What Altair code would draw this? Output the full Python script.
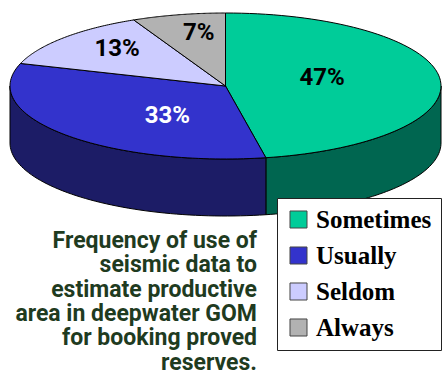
import altair as alt
import numpy as np
import pandas as pd

categories = ["Sometimes", "Usually", "Seldom", "Always"]
values = [47, 33, 13, 7]
top_colors = ["#00CC99", "#3333CC", "#CCCCFF", "#B2B2B2"]
side_colors = ["#006650", "#1C1C66", "#6A6A88", "#5A5A5A"]
label_colors = ["black", "white", "black", "black"]
label_radius = [0.45, 0.36, 0.67, 0.57]
title_lines = [
    "Frequency of use of",
    "seismic data to",
    "estimate productive",
    "area in deepwater GOM",
    "for booking proved",
    "reserves.",
]

# pie geometry (pixel space)
CX, CY, RX, RY, DEPTH = 225.5, 86.0, 215.5, 73.0, 57.0
W, H = 442, 387


def pt(a_deg, dy=0.0):
    a = np.radians(a_deg)
    return CX + RX * np.cos(a), CY - RY * np.sin(a) + dy


total = float(sum(values))
starts, ends = [], []
acc = 90.0
for v in values:
    s = acc
    e = acc - 360.0 * v / total
    starts.append(s)
    ends.append(e)
    acc = e

top_rows, side_rows, label_rows = [], [], []
for k, (c, s, e) in enumerate(zip(categories, starts, ends)):
    angs = np.linspace(s, e, 80)
    pts = [(CX, CY)] + [pt(a) for a in angs] + [(CX, CY)]
    for i, (x, y) in enumerate(pts):
        top_rows.append({"slice": c, "i": i, "x": x, "y": y})
    # side: portion in front half (-180..0)
    lo, hi = max(e, -180.0), min(s, 0.0)
    if lo < hi:
        sa = np.linspace(hi, lo, 60)
        poly = [pt(a) for a in sa] + [pt(a, DEPTH) for a in sa[::-1]] + [pt(sa[0])]
        for i, (x, y) in enumerate(poly):
            side_rows.append({"key": c, "i": i, "x": x, "y": y, "col": side_colors[k]})
    mid = np.radians((s + e) / 2.0)
    label_rows.append({
        "text": f"{values[k]}%",
        "x": CX + label_radius[k] * RX * np.cos(mid),
        "y": CY - 3.5 - 0.69 * RY * np.sin(mid),
        "col": label_colors[k],
    })

top_df = pd.DataFrame(top_rows)
side_df = pd.DataFrame(side_rows)
label_df = pd.DataFrame(label_rows)
title_df = pd.DataFrame({"t": title_lines, "n": range(len(title_lines))})
title_df["y"] = 248 + 24.3 * title_df["n"]
title_df["x"] = 257

xs = alt.Scale(domain=[0, W], nice=False, zero=False)
ys = alt.Scale(domain=[0, H], nice=False, zero=False, reverse=True)
X = alt.X("x:Q", scale=xs, axis=None)
Y = alt.Y("y:Q", scale=ys, axis=None)

sides = alt.Chart(side_df).mark_line(stroke="black", strokeWidth=1, strokeJoin="round").encode(
    x=X, y=Y, order="i:Q", detail="key:N", fill=alt.Fill("col:N", scale=None)
)

tops = alt.Chart(top_df).mark_line(filled=True, stroke="black", strokeWidth=1, strokeJoin="round").encode(
    x=X, y=Y, order="i:Q",
    color=alt.Color(
        "slice:N",
        scale=alt.Scale(domain=categories, range=top_colors),
        legend=alt.Legend(
            title=None, orient="none", legendX=277, legendY=198,
            symbolType="square", symbolSize=290, symbolStrokeColor="#444",
            symbolStrokeWidth=1, symbolOpacity=1,
            labelFont="Liberation Serif", labelFontWeight="bold", labelFontSize=25,
            labelColor="black", labelOffset=5, rowPadding=10,
            padding=9, strokeColor="#222", fillColor="white", labelLimit=300,
        ),
    ),
)

labels = alt.Chart(label_df).mark_text(
    font="Roboto", fontWeight="bold", fontSize=24, align="center", baseline="middle",
).encode(x=X, y=Y, text="text:N", color=alt.Color("col:N", scale=None))

title = alt.Chart(title_df).mark_text(
    font="Roboto", fontWeight="bold", fontSize=23, align="right", baseline="alphabetic",
    color="#1F3B1F",
).encode(x=X, y=Y, text="t:N")

chart = alt.layer(sides, tops, labels, title).properties(
    width=W, height=H, autosize=alt.AutoSizeParams(type="none"), padding=0,
    background="white",
).configure_view(stroke=None)

chart.save("out.html", embed_options={"renderer": "svg", "actions": False})
